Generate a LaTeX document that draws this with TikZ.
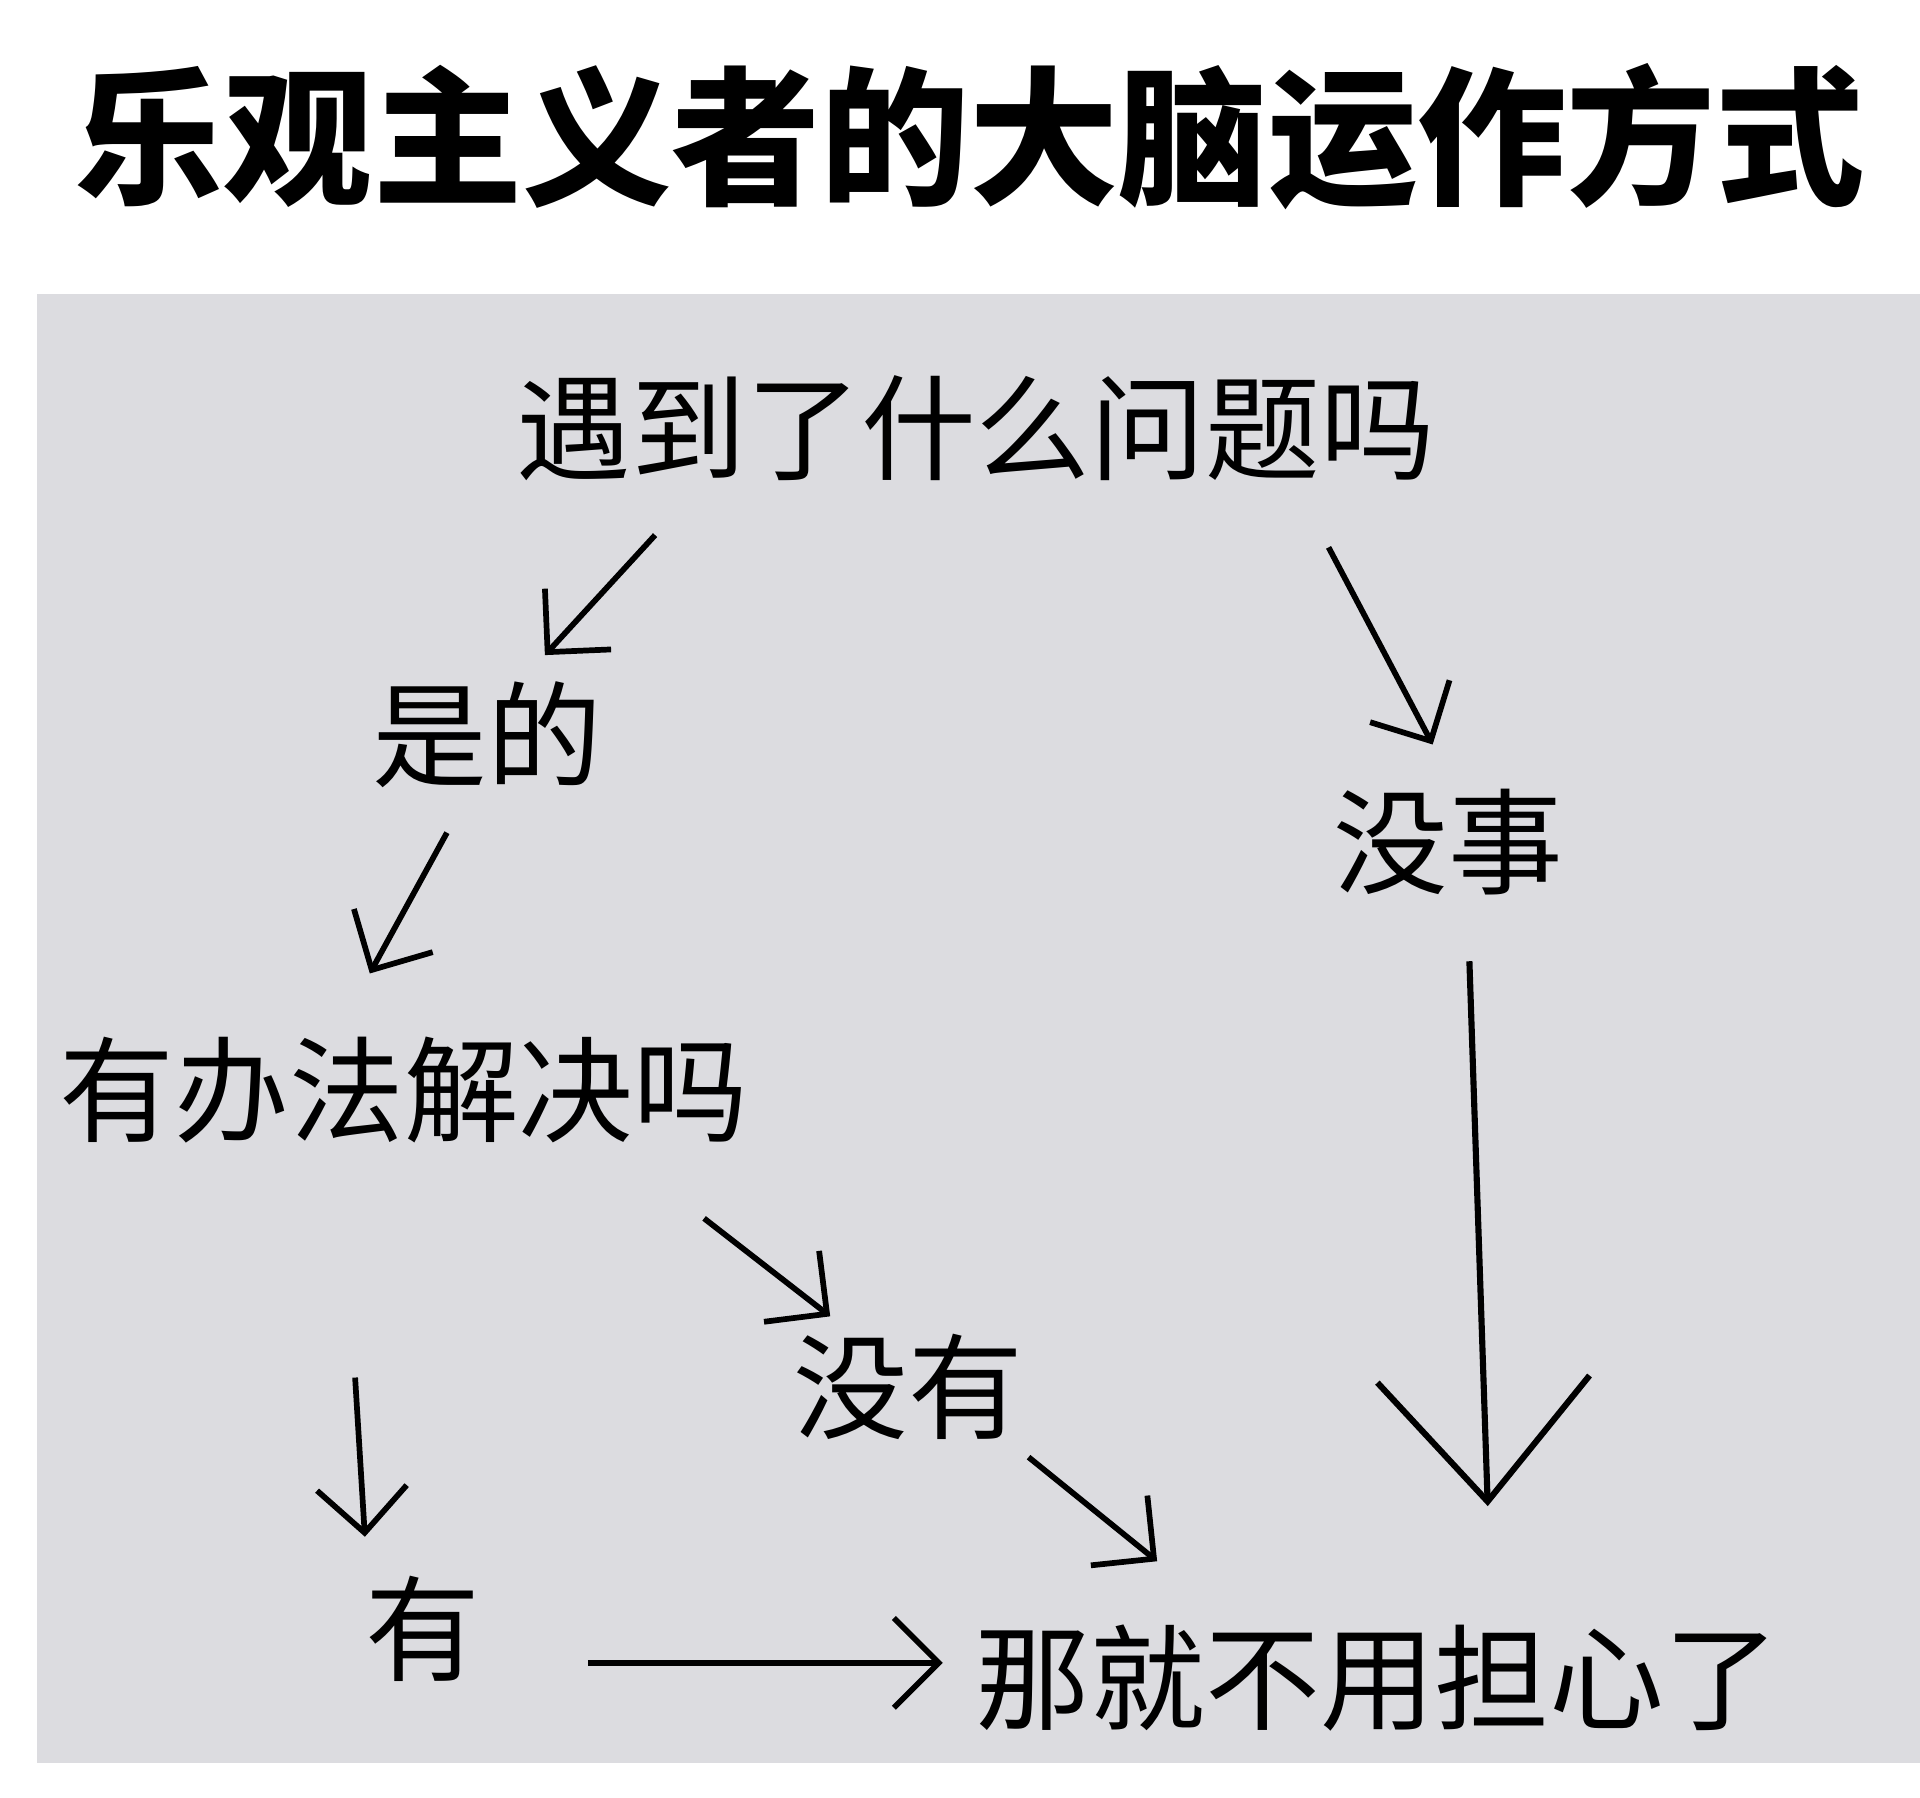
\documentclass[tikz,border=0pt]{standalone}
\usepackage{fontspec}
\setmainfont{Noto Sans CJK SC}
\usetikzlibrary{arrows.meta}
\begin{document}
\begin{tikzpicture}[x=0.3mm,y=-0.3mm,
  lbl/.style={font=\fontsize{80}{84}\selectfont, inner sep=0pt},
  arr/.style={line width=1.4mm, -{Straight Barb[length=11mm,width=22mm,line width=1.4mm]}},
  bigarr/.style={line width=1.5mm, -{Straight Barb[length=30mm,width=52mm,line width=1.5mm]}}]
\useasboundingbox (0,0) rectangle (1568,1468);
\fill[white] (0,0) rectangle (1568,1468);
\fill[fill={rgb,255:red,220;green,220;blue,224}] (30,240) rectangle (1568,1440);
\node[font=\fontsize{104}{108}\selectfont\bfseries, inner sep=0pt] (title) at (792,112) {乐观主义者的大脑运作方式};
\node[lbl] (q) at (797,350) {遇到了什么问题吗};
\node[lbl] (yes) at (398,600) {是的};
\node[lbl] (ok) at (1183,688) {没事};
\node[lbl] (solve) at (330,890) {有办法解决吗};
\node[lbl] (no) at (742,1133) {没有};
\node[lbl] (have) at (345,1330) {有};
\node[lbl] (end) at (1125,1370) {那就不用担心了};
\coordinate (a1s) at (535,437); \coordinate (a1e) at (445,535);
\coordinate (a2s) at (1085,447); \coordinate (a2e) at (1170,608);
\coordinate (a3s) at (365,680); \coordinate (a3e) at (302,795);
\coordinate (a4s) at (1200,785); \coordinate (a4e) at (1215,1230);
\coordinate (a5s) at (575,995); \coordinate (a5e) at (678,1075);
\coordinate (a6s) at (290,1125); \coordinate (a6e) at (298,1255);
\coordinate (a7s) at (840,1190); \coordinate (a7e) at (945,1275);
\coordinate (a8s) at (480,1358); \coordinate (a8e) at (770,1358);
\draw[arr] (a1s) -- (a1e);
\draw[arr] (a2s) -- (a2e);
\draw[arr] (a3s) -- (a3e);
\draw[bigarr] (a4s) -- (a4e);
\draw[arr] (a5s) -- (a5e);
\draw[arr] (a6s) -- (a6e);
\draw[arr] (a7s) -- (a7e);
\draw[arr] (a8s) -- (a8e);
\end{tikzpicture}
\end{document}
